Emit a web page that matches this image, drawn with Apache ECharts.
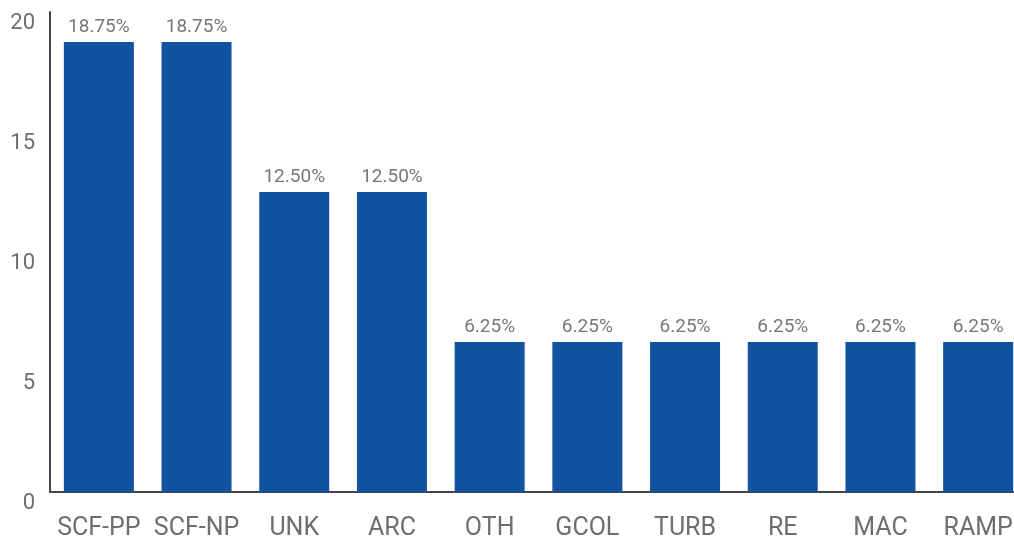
<!DOCTYPE html>
<html>
<head>
<meta charset="utf-8">
<script src="https://cdn.jsdelivr.net/npm/echarts@6/dist/echarts.min.js"></script>
<style>
html,body{margin:0;padding:0;background:#fff;}
#chart{width:1014px;height:538px;}
</style>
</head>
<body>
<div id="chart"></div>
<script>
const categories = ['SCF-PP','SCF-NP','UNK','ARC','OTH','GCOL','TURB','RE','MAC','RAMP'];
const values = [18.75, 18.75, 12.5, 12.5, 6.25, 6.25, 6.25, 6.25, 6.25, 6.25];
const valueLabels = ['18.75%','18.75%','12.50%','12.50%','6.25%','6.25%','6.25%','6.25%','6.25%','6.25%'];

const chart = echarts.init(document.getElementById('chart'), null, {renderer:'canvas'});
const font = 'Roboto';
chart.setOption({
  animation:false,
  backgroundColor:'#ffffff',
  grid:{left:50, top:12, width:977, height:480, containLabel:false, outerBoundsMode:'none'},
  xAxis:{
    type:'category',
    data:categories,
    axisLine:{show:true, lineStyle:{color:'#444', width:2}},
    axisTick:{show:false},
    axisLabel:{color:'#6e6e6e', fontFamily:font, fontSize:25, margin:24, interval:0}
  },
  yAxis:{
    type:'value', min:0, max:20, interval:5,
    axisLine:{show:true, lineStyle:{color:'#444', width:2}},
    axisTick:{show:false},
    splitLine:{show:false},
    axisLabel:{color:'#6e6e6e', fontFamily:font, fontSize:22, margin:15, verticalAlign:'top'}
  },
  series:[{
    type:'bar',
    data:values,
    barWidth:70,
    itemStyle:{color:'#1153a0'},
    label:{
      show:true, position:'top', distance:5,
      color:'#777', fontFamily:font, fontSize:19,
      formatter:(p)=>valueLabels[p.dataIndex]
    }
  }]
});
</script>
</body>
</html>
